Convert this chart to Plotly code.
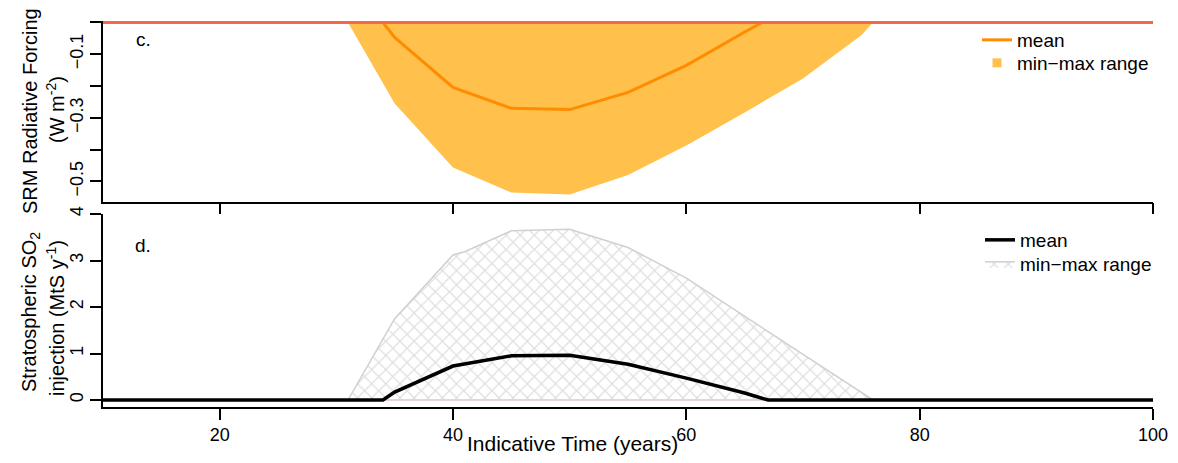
import plotly.graph_objects as go

# ---------------- data ----------------
# Panel c: SRM radiative forcing (W m-2)
c_mean_years = [10, 34, 35, 40, 45, 50, 55, 60, 65, 66.5, 100]
c_mean = [0, 0, -0.047, -0.204, -0.27, -0.274, -0.22, -0.135, -0.03, 0, 0]
c_range_years = [10, 31, 35, 40, 45, 50, 55, 60, 65, 70, 75, 76, 100]
c_min = [0, 0, -0.255, -0.456, -0.535, -0.541, -0.48, -0.387, -0.283, -0.176, -0.04, 0, 0]
c_max = [0, 0, 0, 0, 0, 0, 0, 0, 0, 0, 0, 0, 0]

# Panel d: stratospheric SO2 injection (MtS y-1)
d_mean_years = [10, 34, 35, 40, 45, 50, 55, 60, 65, 67, 100]
d_mean = [0, 0, 0.17, 0.73, 0.95, 0.96, 0.77, 0.47, 0.15, 0, 0]
d_range_years = [10, 31, 35, 40, 41, 45, 50, 55, 60, 65, 70, 75, 76, 100]
d_max = [0, 0, 1.75, 3.12, 3.19, 3.64, 3.67, 3.28, 2.62, 1.8, 0.97, 0.15, 0, 0]
d_min = [0, 0, 0, 0, 0, 0, 0, 0, 0, 0, 0, 0, 0, 0]

x_ticks = [20, 40, 60, 80, 100]
c_ticks = [0, -0.1, -0.2, -0.3, -0.4, -0.5]
c_ticklabels = ["", "\u22120.1", "", "\u22120.3", "", "\u22120.5"]
d_ticks = [0, 1, 2, 3, 4]
d_ticklabels = ["0", "1", "2", "3", "4"]

FONT = "Liberation Sans, Arial, Helvetica, sans-serif"
# the page body adds an 8px margin on every side; size the figure so the page does not overflow
OFF = 8
W, H = 1178 - 2 * OFF, 463 - 2 * OFF
ML, MR, MT = 103 - OFF, 17, 21 - OFF
MB = H - (407 - OFF)
PW = W - ML - MR
PH = H - MT - MB


def py(r):
    """reference-picture pixel y -> paper y"""
    return (H - MB - (r - OFF)) / PH


def px(r):
    """reference-picture pixel x -> paper x"""
    return (r - OFF - ML) / PW


fig = go.Figure()

# ---- panel c ----
fig.add_trace(go.Scatter(x=c_range_years, y=c_min, mode="lines", line=dict(width=0),
                         xaxis="x2", yaxis="y2", showlegend=False, hoverinfo="skip"))
fig.add_trace(go.Scatter(x=c_range_years, y=c_max, mode="lines", line=dict(width=0),
                         fill="tonexty", fillcolor="rgba(255,165,0,0.7)",
                         xaxis="x2", yaxis="y2", showlegend=False, hoverinfo="skip"))
fig.add_trace(go.Scatter(x=c_mean_years, y=c_mean, mode="lines",
                         line=dict(color="#FF8C00", width=3),
                         xaxis="x2", yaxis="y2", name="mean", legend="legend"))
fig.add_trace(go.Scatter(x=c_range_years, y=c_max, mode="lines",
                         line=dict(color="#F8664A", width=3),
                         xaxis="x2", yaxis="y2", showlegend=False, hoverinfo="skip"))
# legend key for the orange range (small square, as in the reference)
fig.add_trace(go.Scatter(x=[None], y=[None], mode="markers",
                         marker=dict(symbol="square", size=9, color="#FFC04D"),
                         xaxis="x2", yaxis="y2", name="min\u2212max range", legend="legend3"))

# ---- panel d ----
fig.add_trace(go.Scatter(x=d_range_years, y=d_min, mode="lines",
                         line=dict(color="#E2D6D6", width=2),
                         xaxis="x", yaxis="y", showlegend=False, hoverinfo="skip"))
fig.add_trace(go.Scatter(x=d_range_years, y=d_max, mode="lines",
                         line=dict(color="#D0D0D0", width=1.5),
                         fill="tonexty", fillcolor="white",
                         fillpattern=dict(shape="x", fgcolor="#BDBDBD", bgcolor="white",
                                          size=10, solidity=0.22),
                         xaxis="x", yaxis="y", name="min\u2212max range", legend="legend4"))
fig.add_trace(go.Scatter(x=d_mean_years, y=d_mean, mode="lines",
                         line=dict(color="black", width=3.5),
                         xaxis="x", yaxis="y", name="mean", legend="legend2"))

axis_common = dict(showline=True, linecolor="black", linewidth=1.5, ticks="outside",
                   ticklen=11, tickwidth=1.5, tickcolor="black", showgrid=False,
                   zeroline=False, tickfont=dict(family=FONT, size=18, color="black"))

leg_common = dict(xanchor="left", yanchor="middle", bgcolor="rgba(0,0,0,0)",
                  font=dict(family=FONT, size=19, color="black"), itemwidth=30)

fig.update_layout(
    width=W, height=H,
    margin=dict(l=ML, r=MR, t=MT, b=MB, autoexpand=False),
    paper_bgcolor="white", plot_bgcolor="white",
    font=dict(family=FONT, color="black"),
    xaxis=dict(domain=[0, 1], range=[10, 100], tickvals=x_ticks, anchor="y",
               automargin=False, **axis_common),
    yaxis=dict(domain=[0, py(214)], range=[-0.1505, 4.0], tickvals=d_ticks, ticktext=d_ticklabels,
               tickangle=-90, anchor="x", automargin=False, **axis_common),
    xaxis2=dict(domain=[0, 1], range=[10, 100], tickvals=x_ticks, showticklabels=False,
                anchor="y2", matches="x", automargin=False, **axis_common),
    yaxis2=dict(domain=[py(201.5), 1], range=[-0.563, 0.0047], tickvals=c_ticks,
                ticktext=c_ticklabels, tickangle=-90, anchor="x2", automargin=False, **axis_common),
    legend=dict(x=px(977), y=py(40), **leg_common),
    legend3=dict(x=px(977), y=py(63), **leg_common),
    legend2=dict(x=px(980), y=py(240), **leg_common),
    legend4=dict(x=px(980), y=py(264), **leg_common),
    showlegend=True,
)

for t, rx, ry in [("c.", 143, 40), ("d.", 143, 245)]:
    fig.add_annotation(text=t, x=px(rx), y=py(ry), xref="paper", yref="paper",
                       showarrow=False, xanchor="center", yanchor="middle",
                       font=dict(family=FONT, size=19, color="black"))

# axis titles
fig.add_annotation(text="Indicative Time (years)", x=px(572), y=py(444), xref="paper", yref="paper",
                   showarrow=False, xanchor="center", yanchor="middle",
                   font=dict(family=FONT, size=21, color="black"))
ylabels = [
    ("SRM Radiative Forcing", 30, 111),
    ("(W m<sup>-2</sup>)", 55, 110),
    ("Stratospheric SO<sub>2</sub>", 30, 312),
    ("injection (MtS y<sup>-1</sup>)", 55, 318),
]
for t, rx, ry in ylabels:
    fig.add_annotation(text=t, x=px(rx), y=py(ry), xref="paper", yref="paper",
                       showarrow=False, xanchor="center", yanchor="middle", textangle=-90,
                       font=dict(family=FONT, size=20, color="black"))

fig.write_html("out.html")
